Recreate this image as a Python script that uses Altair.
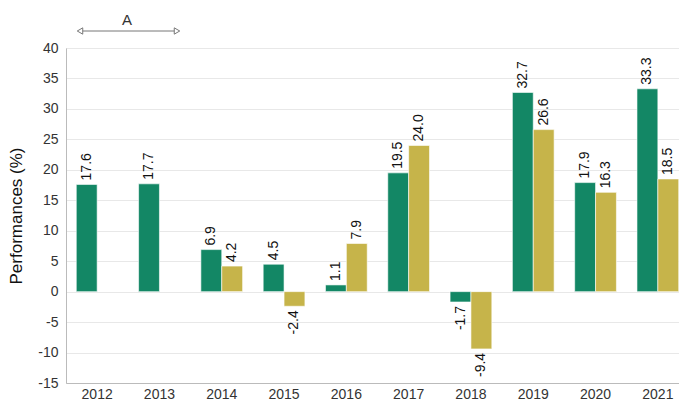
import altair as alt
import pandas as pd

years = ["2012", "2013", "2014", "2015", "2016", "2017", "2018", "2019", "2020", "2021"]
series_a = [17.6, 17.7, 6.9, 4.5, 1.1, 19.5, -1.7, 32.7, 17.9, 33.3]
series_b = [None, None, 4.2, -2.4, 7.9, 24.0, -9.4, 26.6, 16.3, 18.5]
series_names = ["Series 1", "Series 2"]
colors = ["#138765", "#c6b44a"]
y_ticks = [-15, -10, -5, 0, 5, 10, 15, 20, 25, 30, 35, 40]

rows = []
for y, a, b in zip(years, series_a, series_b):
    rows.append({"year": y, "series": series_names[0], "value": a})
    if b is not None:
        rows.append({"year": y, "series": series_names[1], "value": b})
df = pd.DataFrame(rows)

FONT = "Liberation Sans"
HY = "replace(datum.label, '\u2212', '-')"

x_enc = alt.X("year:N", title=None, sort=years,
              scale=alt.Scale(paddingInner=0.33, paddingOuter=0.165),
              axis=alt.Axis(labelAngle=0, ticks=False, domain=True, domainColor="#bbbbbb",
                            labelFontSize=14, labelColor="#333333", labelPadding=4, grid=False))
xo_enc = alt.XOffset("series:N", sort=series_names, scale=alt.Scale(domain=series_names))
y_enc = alt.Y("value:Q", scale=alt.Scale(domain=[-15, 40], nice=False, zero=False),
              title="Performances (%)",
              axis=alt.Axis(values=y_ticks, ticks=False, domain=True,
                            domainColor="#bbbbbb", gridColor="#e8e8e8", labelFontSize=14,
                            labelColor="#333333", labelPadding=8, labelOverlap=False,
                            labelExpr=HY, titleFontSize=17,
                            titleFontWeight="normal", titleColor="#111111", titlePadding=12))

bars = alt.Chart(df).mark_bar(stroke="#ffffff", strokeWidth=0.6).encode(
    x=x_enc,
    xOffset=xo_enc,
    y=y_enc,
    color=alt.Color("series:N", scale=alt.Scale(domain=series_names, range=colors), legend=None),
)

lab = alt.Chart(df).transform_calculate(
    txt="replace(format(datum.value, '.1f'), '\u2212', '-')"
)
pos = lab.transform_filter("datum.value >= 0").mark_text(
    angle=270, align="left", baseline="middle", dx=4, fontSize=14, color="#111111", font=FONT
).encode(x=x_enc, xOffset=xo_enc, y=y_enc, text="txt:N")
neg = lab.transform_filter("datum.value < 0").mark_text(
    angle=270, align="right", baseline="middle", dx=-4, fontSize=14, color="#111111", font=FONT
).encode(x=x_enc, xOffset=xo_enc, y=y_enc, text="txt:N")

ann = pd.DataFrame({"label": ["A"]})
line = alt.Chart(ann).mark_rule(color="#777777", strokeWidth=1).encode(
    x=alt.value(15), x2=alt.value(110), y=alt.value(-17))
left_head = alt.Chart(ann).mark_point(shape="triangle-left", filled=True, fill="#ffffff",
                                      stroke="#777777", size=40, strokeWidth=1, opacity=1).encode(
    x=alt.value(14), y=alt.value(-17))
right_head = alt.Chart(ann).mark_point(shape="triangle-right", filled=True, fill="#ffffff",
                                       stroke="#777777", size=40, strokeWidth=1, opacity=1).encode(
    x=alt.value(111), y=alt.value(-17))
atext = alt.Chart(ann).mark_text(fontSize=15, color="#333333", font=FONT, baseline="alphabetic").encode(
    x=alt.value(61), y=alt.value(-23), text="label:N")

chart = alt.layer(bars, pos, neg, line, left_head, right_head, atext).properties(
    width=623, height=335, autosize=alt.AutoSizeParams(type="none"),
    padding={"left": 58, "top": 40, "right": -10, "bottom": 25}
).configure_view(stroke=None).configure(font=FONT)

chart.save("out.html", embed_options={"renderer": "svg", "actions": False})
